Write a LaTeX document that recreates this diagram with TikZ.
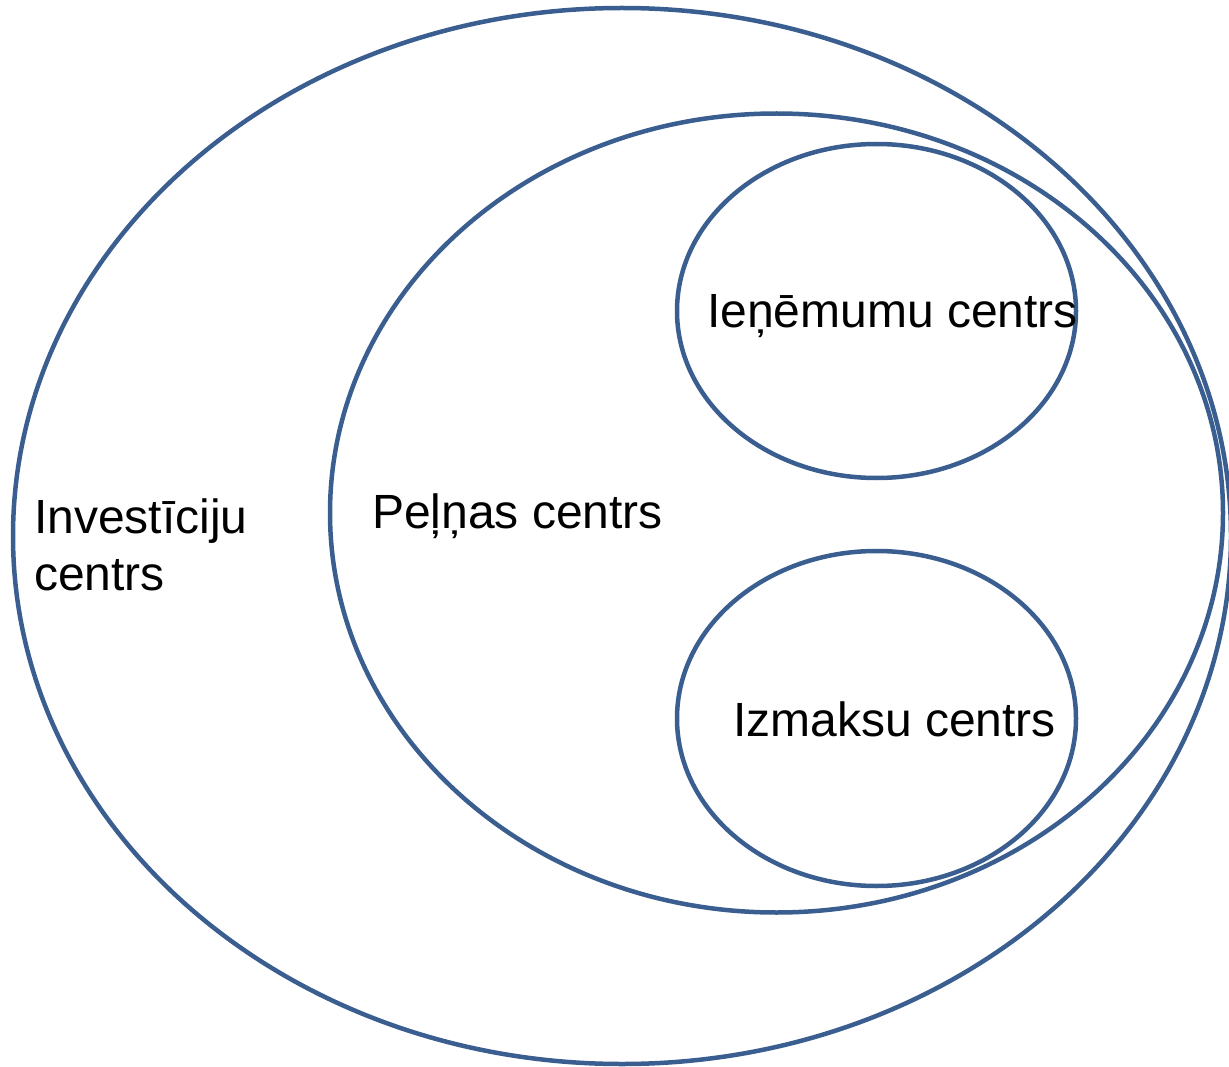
\documentclass[tikz,border=0pt]{standalone}
\usepackage{fontspec}
\setmainfont{Liberation Sans}
\usetikzlibrary{shapes.geometric}
\definecolor{ringblue}{HTML}{3A5E8F}
\begin{document}
\begin{tikzpicture}[x=1pt,y=-1pt,
  ring/.style={draw=ringblue,line width=4.5pt,ellipse,inner sep=0pt,outer sep=0pt},
  lbl/.style={anchor=base west,inner sep=0pt,font=\fontsize{48}{57}\selectfont,text=black}]
  \useasboundingbox (0,0) rectangle (1229,1067);
  % nested responsibility centres
  \node[ring,minimum width=1218pt,minimum height=1056pt] (invest) at (622,536) {};
  \node[ring,minimum width=893pt,minimum height=799pt] (profit) at (776.5,513) {};
  \node[ring,minimum width=399pt,minimum height=334pt] (revenue) at (876.5,311) {};
  \node[ring,minimum width=399pt,minimum height=335pt] (cost) at (876.5,718.5) {};
  % labels (the two-line label sits on the baseline of its last line)
  \node[lbl,align=left] (tinvest) at (34,590) {Investīciju\\centrs};
  \node[lbl] (tprofit) at (372,528) {Peļņas centrs};
  \node[lbl] (trevenue) at (707,328) {Ieņēmumu centrs};
  \node[lbl] (tcost) at (733,736) {Izmaksu centrs};
\end{tikzpicture}
\end{document}
